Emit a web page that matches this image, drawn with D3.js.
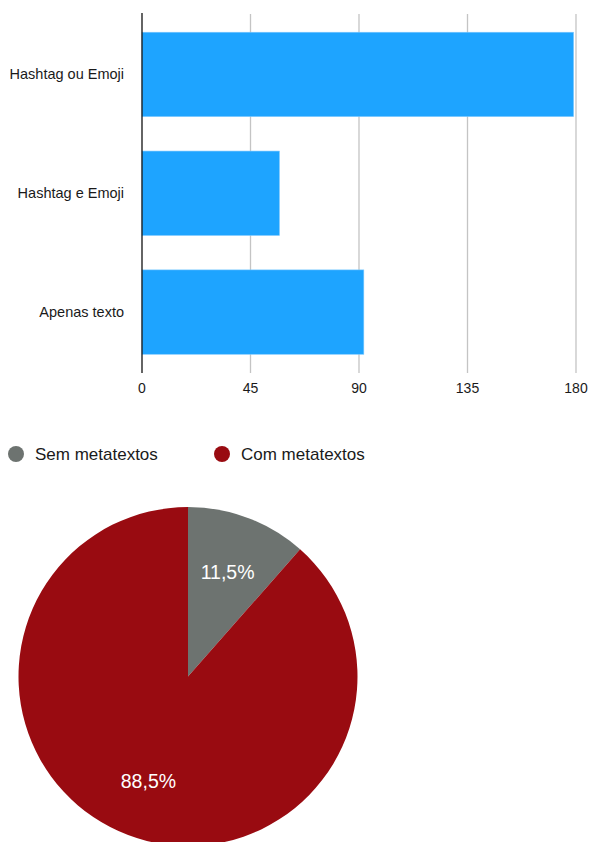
<!DOCTYPE html>
<html lang="pt">
	<head>
		<meta charset="UTF-8" />
		<title>Metatextos</title>
		<script src="https://d3js.org/d3.v7.min.js"></script>
		<style>
			body {
				margin: 0;
				background: #fff;
				font-family: "Liberation Sans", Arial, Helvetica, sans-serif;
			}
			.tick-label {
				font-size: 14px;
				fill: #1a1a1a;
			}
			.cat-label {
				font-size: 14.5px;
				fill: #1a1a1a;
			}
			.legend text {
				font-size: 17px;
				fill: #1a1a1a;
			}
		</style>
	</head>
	<body>
		<div id="chart"></div>

		<script>
			// bar chart data
			const categories = ["Hashtag ou Emoji", "Hashtag e Emoji", "Apenas texto"];
			const barValues = [179, 57, 92];
			const xTicks = [0, 45, 90, 135, 180];

			// pie chart data
			const pieLabels = ["Sem metatextos", "Com metatextos"];
			const pieValues = [11.5, 88.5];
			const pieColors = ["#6d7370", "#990b11"];

			const svg = d3
				.select("#chart")
				.append("svg")
				.attr("width", 589)
				.attr("height", 842);

			// --- bar chart ---
			const x = d3.scaleLinear().domain([0, 180]).range([142, 576]);
			const y = d3
				.scaleBand()
				.domain(categories)
				.range([15, 371.5])
				.paddingInner(0.29)
				.paddingOuter(0.145);

			// gridlines
			svg
				.append("g")
				.selectAll("line")
				.data(xTicks.slice(1))
				.enter()
				.append("line")
				.attr("x1", d => x(d))
				.attr("x2", d => x(d))
				.attr("y1", 14)
				.attr("y2", 373)
				.attr("stroke", "#c4c4c4")
				.attr("stroke-width", 1.3);

			// bars
			svg
				.append("g")
				.selectAll("rect")
				.data(categories)
				.enter()
				.append("rect")
				.attr("x", x(0))
				.attr("y", d => y(d))
				.attr("width", (d, i) => x(barValues[i]) - x(0))
				.attr("height", y.bandwidth())
				.attr("fill", "#1ea4ff")
				.attr("stroke", "#7cc8ff")
				.attr("stroke-width", 0.6);

			// y axis line
			svg
				.append("line")
				.attr("x1", x(0))
				.attr("x2", x(0))
				.attr("y1", 13)
				.attr("y2", 373)
				.attr("stroke", "#111")
				.attr("stroke-width", 1.3);

			// x tick labels
			svg
				.append("g")
				.selectAll("text")
				.data(xTicks)
				.enter()
				.append("text")
				.attr("class", "tick-label")
				.attr("x", d => x(d))
				.attr("y", 388)
				.attr("dy", "0.35em")
				.style("text-anchor", "middle")
				.text(d => d);

			// category labels
			svg
				.append("g")
				.selectAll("text")
				.data(categories)
				.enter()
				.append("text")
				.attr("class", "cat-label")
				.attr("x", 124)
				.attr("y", d => y(d) + y.bandwidth() / 2)
				.attr("dy", "0.35em")
				.style("text-anchor", "end")
				.text(d => d);

			// --- legend ---
			const legendX = [16, 222];
			const legend = svg.append("g").attr("class", "legend");
			pieLabels.forEach((label, i) => {
				legend
					.append("circle")
					.attr("cx", legendX[i])
					.attr("cy", 454)
					.attr("r", 8)
					.attr("fill", pieColors[i]);
				legend
					.append("text")
					.attr("x", legendX[i] + 19)
					.attr("y", 454)
					.attr("dy", "0.35em")
					.text(label);
			});

			// --- pie chart ---
			const cx = 188,
				cy = 676.5,
				r = 169.5;
			const pie = d3.pie().sort(null)(pieValues);
			const arc = d3.arc().innerRadius(0).outerRadius(r);
			const labelArc = d3.arc().innerRadius(112).outerRadius(112);

			const pieG = svg.append("g").attr("transform", `translate(${cx},${cy})`);

			pieG
				.selectAll("path")
				.data(pie)
				.enter()
				.append("path")
				.attr("d", arc)
				.attr("fill", (d, i) => pieColors[i]);

			pieG
				.selectAll("text")
				.data(pie)
				.enter()
				.append("text")
				.attr("transform", d => `translate(${labelArc.centroid(d)})`)
				.attr("dy", "0.35em")
				.style("text-anchor", "middle")
				.style("font-size", "19.5px")
				.attr("fill", "#fff")
				.text(d => String(d.data).replace(".", ",") + "%");
		</script>
	</body>
</html>
